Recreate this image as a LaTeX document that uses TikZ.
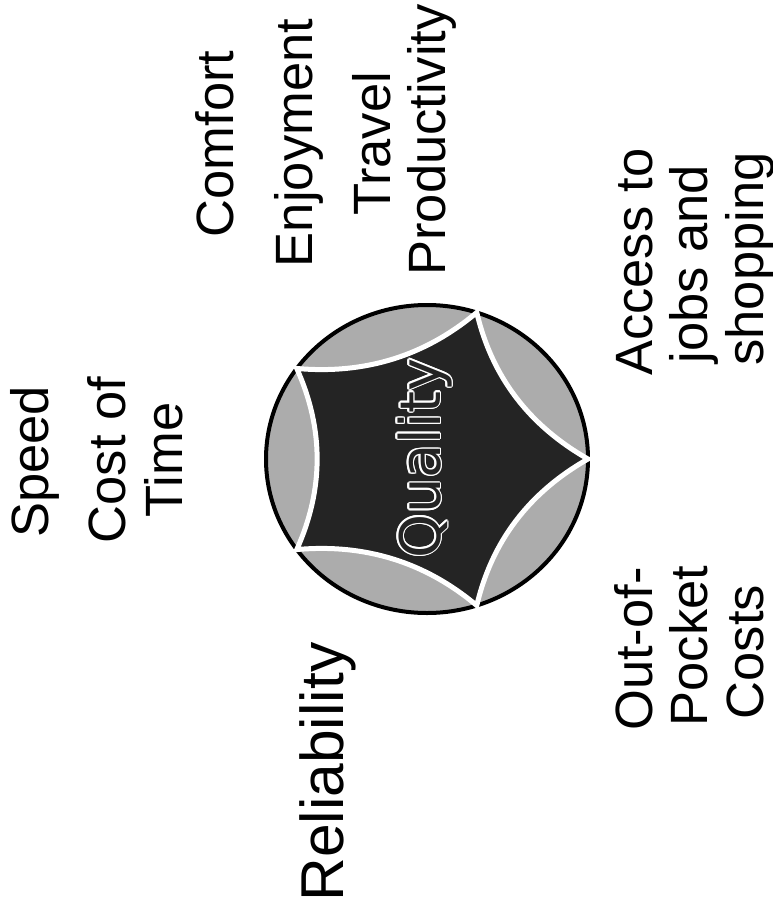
\documentclass[tikz,border=0pt]{standalone}
\usepackage{fontspec}
\setmainfont{Liberation Sans}
\newfontfamily\qfont{DejaVu Sans}
\usetikzlibrary{calc}
\definecolor{lensgray}{RGB}{172,172,172}
\definecolor{stardark}{RGB}{36,36,36}
\begin{document}
\begin{tikzpicture}[x=1pt,y=-1pt,
  lbl/.style={rotate=90,anchor=base,inner sep=0pt,font=\fontsize{52.5}{56}\selectfont},
  biglbl/.style={rotate=90,anchor=base,inner sep=0pt,font=\fontsize{60.5}{64}\selectfont},
  qual/.style={rotate=90,anchor=base,inner sep=0pt,font=\qfont\fontsize{56}{60}\selectfont},
  rim/.style={fill=lensgray,draw=black,line width=4pt},
  starshape/.style={fill=stardark,draw=white,line width=5pt,line join=miter}]
\useasboundingbox[fill=white] (0,0) rectangle (773,911);

\coordinate (ctr) at (427,459);
\begin{scope}[shift={(427,459)},xscale=1.019,yscale=0.975]
  \foreach \i in {0,...,4} {
    \coordinate (t\i) at ({72*\i}:158);
    \coordinate (m\i) at ({72*\i+36}:87.8);
  }
\end{scope}

% outer disc
\draw[rim] (ctr) ellipse [x radius=161, y radius=154];

% concave star
\filldraw[starshape] (t0)
  .. controls ($(t0)!2/3!(m0)$) and ($(t1)!2/3!(m0)$) .. (t1)
  .. controls ($(t1)!2/3!(m1)$) and ($(t2)!2/3!(m1)$) .. (t2)
  .. controls ($(t2)!2/3!(m2)$) and ($(t3)!2/3!(m2)$) .. (t3)
  .. controls ($(t3)!2/3!(m3)$) and ($(t4)!2/3!(m3)$) .. (t4)
  .. controls ($(t4)!2/3!(m4)$) and ($(t0)!2/3!(m4)$) .. cycle;

% Quality (outlined text)
\coordinate (qc) at (440,458);
\foreach \a in {0,30,...,330} {
  \node[qual,text=white] (qo\a) at ($(qc)+(\a:1.4)$) {Quality};
}
\node[qual,text=stardark] (quality) at (qc) {Quality};

% labels
\node[lbl] (speed)  at (48,462)  {Speed};
\node[lbl] (costof) at (125,460) {Cost of};
\node[lbl] (time)   at (182,460) {Time};
\node[lbl] (comfort) at (233,144) {Comfort};
\node[lbl] (enjoy)  at (312,143) {Enjoyment};
\node[lbl] (travel) at (390,144) {Travel};
\node[lbl] (prod)   at (445,140) {Productivity};
\node[lbl] (access) at (652,262) {Access to};
\node[lbl] (jobs)   at (707,264) {jobs and};
\node[lbl] (shop)   at (763,259) {shopping};
\node[lbl] (outof)  at (652,649) {Out-of-};
\node[lbl] (pocket) at (707,646) {Pocket};
\node[lbl] (costs)  at (763,652) {Costs};
\node[biglbl] (rel) at (343,772) {Reliability};
\end{tikzpicture}
\end{document}
